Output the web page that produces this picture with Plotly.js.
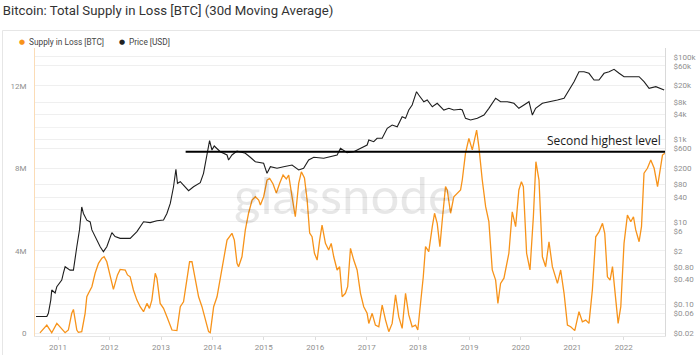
<!DOCTYPE html>
<html>
<head>
<meta charset="utf-8">
<script src="https://cdn.plot.ly/plotly-3.0.1.min.js"></script>
<style>
  html, body { margin: 0; padding: 0; background: #ffffff; }
  #chart { width: 700px; height: 355px; }
</style>
</head>
<body>
<div id="chart"></div>
<script>
// ---------------- DATA ----------------
const supplyDates = [
  '2010-08-25','2010-10-13','2010-11-05','2010-11-17','2010-12-23','2011-01-15','2011-02-20','2011-03-15','2011-04-08','2011-04-20',
  '2011-05-14','2011-05-25','2011-06-18','2011-07-12','2011-07-24','2011-08-05','2011-08-29','2011-09-21','2011-10-15','2011-11-08',
  '2011-11-24','2011-12-13','2012-01-06','2012-01-29','2012-02-27','2012-03-17','2012-04-22','2012-05-08','2012-05-27','2012-06-19',
  '2012-07-14','2012-08-06','2012-08-30','2012-09-23','2012-10-11','2012-10-28','2012-11-21','2012-12-03','2012-12-26','2013-01-19',
  '2013-02-12','2013-03-20','2013-04-24','2013-05-18','2013-06-10','2013-07-04','2013-07-23','2013-08-09','2013-09-01','2013-09-25',
  '2013-10-19','2013-11-11','2013-12-05','2013-12-17','2014-01-10','2014-02-03','2014-03-10','2014-04-15','2014-05-20','2014-06-06',
  '2014-06-25','2014-07-06','2014-07-30','2014-08-23','2014-09-15','2014-10-10','2014-11-02','2014-11-26','2014-12-08','2014-12-31',
  '2015-01-24','2015-02-12','2015-03-08','2015-03-31','2015-04-24','2015-05-18','2015-06-10','2015-06-27','2015-07-21','2015-08-13',
  '2015-09-06','2015-09-25','2015-10-17','2015-11-05','2015-11-23','2015-12-10','2015-12-27','2016-01-15','2016-02-02','2016-02-19',
  '2016-03-14','2016-04-06','2016-04-24','2016-05-12','2016-06-05','2016-06-23','2016-07-11','2016-08-03','2016-08-19','2016-09-08',
  '2016-10-01','2016-10-25','2016-11-18','2016-12-11','2017-01-04','2017-01-16','2017-02-09','2017-03-04','2017-03-28','2017-04-21',
  '2017-05-15','2017-06-07','2017-07-01','2017-07-25','2017-08-17','2017-09-10','2017-10-04','2017-10-27','2017-11-20','2017-12-14',
  '2017-12-30','2018-01-18','2018-02-07','2018-02-23','2018-03-18','2018-04-12','2018-04-28','2018-05-17','2018-06-05','2018-06-22',
  '2018-07-15','2018-07-27','2018-08-20','2018-09-12','2018-10-06','2018-10-30','2018-11-11','2018-12-04','2018-12-28','2019-01-21',
  '2019-02-21','2019-03-09','2019-04-02','2019-04-26','2019-05-19','2019-06-12','2019-07-06','2019-07-22','2019-08-10','2019-09-03',
  '2019-10-08','2019-11-01','2019-11-25','2019-12-18','2020-01-05','2020-01-19','2020-02-11','2020-03-06','2020-03-30','2020-04-17',
  '2020-05-09','2020-06-02','2020-06-25','2020-07-19','2020-08-12','2020-09-17','2020-10-10','2020-11-03','2020-11-27','2020-12-20',
  '2021-01-18','2021-02-17','2021-03-13','2021-04-06','2021-04-29','2021-05-23','2021-06-16','2021-07-09','2021-08-03','2021-08-19',
  '2021-09-07','2021-09-26','2021-10-13','2021-10-31','2021-11-22','2021-12-11','2022-01-03','2022-01-27','2022-02-20','2022-03-11',
  '2022-03-27','2022-04-20','2022-05-07','2022-05-25','2022-06-18','2022-07-12','2022-08-05','2022-08-29','2022-09-16','2022-10-03',
  '2022-10-20'
];
// Supply in Loss, millions of BTC (30d MA)
const supplyLossM = [
  0.02,0.40,0.16,0.03,0.48,0.29,0.03,0.16,0.97,1.16,
  0.16,0.05,0.08,0.97,1.77,1.94,2.26,2.91,3.39,3.64,
  3.71,3.47,2.74,2.13,2.83,3.10,3.07,2.83,2.74,2.10,
  1.61,1.29,1.05,1.45,1.21,1.61,2.91,2.67,1.45,1.21,
  0.80,0.16,0.13,1.29,1.53,2.58,3.47,3.47,2.58,1.77,
  1.29,0.64,0.08,0.03,1.29,1.77,3.23,4.52,4.85,4.52,
  3.39,3.23,3.71,5.01,5.82,6.46,6.62,6.46,6.22,6.62,
  7.43,7.51,7.24,6.80,7.27,7.67,7.48,7.67,6.61,5.65,
  7.27,7.83,7.53,6.46,4.86,4.68,3.88,3.55,4.52,5.25,
  4.36,4.04,4.36,3.71,3.07,3.23,1.77,1.94,2.26,4.12,
  3.55,3.07,1.94,1.29,0.97,0.48,0.97,0.40,0.32,1.37,
  0.64,0.08,0.48,1.86,0.80,0.24,1.94,0.89,0.32,0.40,
  0.16,1.29,2.74,4.20,3.96,5.17,5.82,5.33,4.20,5.49,
  7.11,6.95,5.82,6.62,6.79,6.95,7.43,8.73,9.45,8.89,
  9.85,9.04,7.43,6.14,5.41,3.07,2.58,1.45,2.42,2.67,
  3.88,5.89,5.17,6.95,7.35,7.11,3.88,3.07,5.65,8.32,
  7.43,3.71,3.23,4.44,3.23,2.42,3.07,1.94,0.40,0.32,
  0.13,1.05,0.56,0.64,0.48,2.10,4.68,4.92,5.33,4.85,
  2.74,2.58,3.23,1.94,0.48,1.29,4.36,5.73,5.41,5.65,
  5.01,4.44,5.17,7.76,8.00,8.40,8.00,7.11,7.83,8.64,
  8.73
];

const priceDates = [
  '2010-07-28','2010-10-13','2010-10-24','2010-11-10','2010-11-17','2010-12-11','2010-12-23','2011-01-27','2011-02-08','2011-02-20',
  '2011-03-27','2011-04-20','2011-05-14','2011-06-02','2011-06-18','2011-06-30','2011-07-24','2011-08-17','2011-08-29','2011-09-21',
  '2011-10-27','2011-11-19','2011-12-13','2012-01-18','2012-02-10','2012-03-17','2012-05-27','2012-07-14','2012-08-30','2012-10-16',
  '2012-12-03','2013-01-19','2013-02-12','2013-03-08','2013-03-31','2013-04-17','2013-04-28','2013-05-18','2013-06-22','2013-07-16',
  '2013-08-20','2013-10-07','2013-10-30','2013-11-23','2013-12-12','2013-12-29','2014-01-14','2014-02-26','2014-04-15','2014-04-26',
  '2014-05-20','2014-06-25','2014-07-18','2014-08-23','2014-09-27','2014-11-02','2014-12-31','2015-01-24','2015-02-17','2015-04-05',
  '2015-05-22','2015-07-21','2015-09-06','2015-10-11','2015-11-16','2015-12-22','2016-03-02','2016-04-30','2016-06-05','2016-06-29',
  '2016-08-15','2016-10-01','2016-11-18','2017-01-04','2017-01-16','2017-02-20','2017-03-16','2017-04-21','2017-05-27','2017-07-01',
  '2017-08-06','2017-09-10','2017-10-04','2017-10-27','2017-11-20','2017-12-21','2018-01-06','2018-02-11','2018-03-07','2018-04-12',
  '2018-05-17','2018-07-03','2018-08-08','2018-09-12','2018-10-30','2018-11-11','2018-12-04','2019-01-09','2019-02-26','2019-04-14',
  '2019-05-19','2019-07-06','2019-08-10','2019-09-27','2019-11-13','2019-12-18','2020-01-23','2020-02-28','2020-03-23','2020-04-15',
  '2020-06-02','2020-07-31','2020-09-17','2020-11-03','2020-12-08','2021-01-13','2021-02-17','2021-03-25','2021-04-29','2021-06-04',
  '2021-07-09','2021-08-14','2021-09-19','2021-10-24','2021-11-29','2022-01-03','2022-03-04','2022-04-20','2022-05-25','2022-06-30',
  '2022-08-17','2022-10-15'
];
// Price, USD
const priceUSD = [
  0.051,0.051,0.061,0.128,0.224,0.19,0.27,0.39,0.58,0.82,
  0.68,0.68,2.5,6.4,23,16,11,10,6.4,4.4,
  2.5,1.9,2.5,5.5,4.4,4.0,4.0,5.8,10.1,9.6,
  10.7,11.1,16,28,71,188,86,94,71,57,
  71,89,150,458,925,551,689,501,417,316,
  417,521,501,458,367,287,262,150,217,199,
  217,239,181,199,316,367,347,394,417,606,
  474,501,606,728,962,875,1057,1057,1845,2218,
  2018,3521,3219,5117,6770,14220,11830,8135,8946,6152,
  7442,5117,5632,5117,5325,5117,3219,2931,3219,3874,
  5632,9845,8135,8135,7442,5632,6770,8135,3874,5632,
  7442,8135,8946,9845,15630,24830,43360,43360,39650,27300,
  27300,39650,43360,49570,39650,32830,32830,32830,24830,17180,
  18800,15630
];

const yearTicks = ['2011-01-01','2012-01-01','2013-01-01','2014-01-01','2015-01-01','2016-01-01',
                   '2017-01-01','2018-01-01','2019-01-01','2020-01-01','2021-01-01','2022-01-01'];
const yearLabels = ['2011','2012','2013','2014','2015','2016','2017','2018','2019','2020','2021','2022'];

const supplyTickVals = [0, 2, 4, 6, 8, 10, 12];
const supplyTickText = ['0', '', '4M', '', '8M', '', '12M'];

const priceTickVals = [100000, 60000, 20000, 8000, 4000, 1000, 600, 200, 80, 40, 10, 6, 2, 0.8, 0.4, 0.1, 0.06, 0.02];
const priceTickText = ['$100k','$60k','$20k','$8k','$4k','$1k','$600','$200','$80','$40','$10','$6','$2','$0.80','$0.40','$0.10','$0.06','$0.02'];

const secondHighestLevelM = 8.8;
const secondHighestStart = '2013-06-25';

// ---------------- CHART ----------------
const ORANGE = '#f7931a';
const tickFont = { family: 'Roboto, Inter, sans-serif', size: 8, color: '#8f8f8f' };

const traces = [
  {
    x: supplyDates, y: supplyLossM, type: 'scatter', mode: 'lines',
    name: 'Supply in Loss [BTC]', yaxis: 'y',
    line: { color: ORANGE, width: 1.3 }, showlegend: false, hoverinfo: 'skip'
  },
  {
    x: priceDates, y: priceUSD, type: 'scatter', mode: 'lines',
    name: 'Price [USD]', yaxis: 'y2',
    line: { color: '#1e1e1e', width: 1.1 }, showlegend: false, hoverinfo: 'skip'
  }
];

const layout = {
  width: 700, height: 355,
  margin: { l: 35, r: 35, t: 48, b: 19, pad: 0 },
  paper_bgcolor: '#ffffff', plot_bgcolor: '#ffffff',
  showlegend: false,
  title: {
    text: 'Bitcoin: Total Supply in Loss [BTC] (30d Moving Average)',
    x: 0.004, xref: 'container', xanchor: 'left',
    y: 1 - 10 / 355, yref: 'container', yanchor: 'middle',
    font: { family: 'Roboto, Inter, sans-serif', size: 13.2, color: '#333333' }
  },
  xaxis: {
    type: 'date', range: ['2010-07-21', '2022-10-21'],
    tickvals: yearTicks, ticktext: yearLabels,
    ticks: 'outside', ticklen: 3, tickcolor: '#dddddd',
    showgrid: false, zeroline: false,
    showline: true, linecolor: '#e6e6e6', linewidth: 1,
    tickfont: tickFont
  },
  yaxis: {
    range: [-0.13, 13.83],
    tickvals: supplyTickVals, ticktext: supplyTickText,
    showgrid: true, gridcolor: '#f2f2f2', gridwidth: 1,
    zeroline: false, showline: true, linecolor: '#fbdcb6', linewidth: 1,
    ticks: '', ticklabelstandoff: 6,
    tickfont: tickFont
  },
  yaxis2: {
    type: 'log', overlaying: 'y', side: 'right',
    range: [-1.763, 5.211],
    tickvals: priceTickVals, ticktext: priceTickText,
    showgrid: true, gridcolor: '#efefef', gridwidth: 1,
    zeroline: false, showline: true, linecolor: '#d9d9d9', linewidth: 1,
    ticks: '', ticklabelstandoff: 6,
    tickfont: tickFont
  },
  shapes: [
    // card frame
    { type: 'rect', xref: 'paper', yref: 'paper', x0: -0.0516, x1: 1.6, y0: -0.3, y1: 1.0608,
      line: { color: '#e6e6e6', width: 1 }, fillcolor: 'rgba(0,0,0,0)', layer: 'below' },
    // hand-drawn "second highest level" line
    { type: 'line', xref: 'x', yref: 'y', x0: secondHighestStart, x1: '2022-10-21',
      y0: secondHighestLevelM, y1: secondHighestLevelM,
      line: { color: '#000000', width: 2 } }
  ],
  annotations: [
    { text: 'glassnode', xref: 'paper', yref: 'paper', x: 0.4905, y: 0.49,
      xanchor: 'center', yanchor: 'middle', showarrow: false,
      font: { family: 'Lato, "Open Sans", sans-serif', size: 51, color: 'rgba(0,0,0,0.095)' } },
    { text: 'Second highest level', xref: 'paper', yref: 'paper', x: 0.997, y: (336 - 140) / 288,
      xanchor: 'right', yanchor: 'middle', showarrow: false,
      font: { family: '"Open Sans", Lato, sans-serif', size: 12, weight: 400, color: '#1a1a1a' } },
    // legend
    { text: '●', xref: 'paper', yref: 'paper', x: (22 - 35) / 630, y: (336 - 42) / 288,
      xanchor: 'center', yanchor: 'middle', showarrow: false,
      font: { family: 'DejaVu Sans, sans-serif', size: 7, color: ORANGE } },
    { text: 'Supply in Loss [BTC]', xref: 'paper', yref: 'paper', x: (27 - 35) / 630, y: (336 - 42) / 288,
      xanchor: 'left', yanchor: 'middle', showarrow: false,
      font: { family: 'Roboto, Inter, sans-serif', size: 8.3, color: '#444444' } },
    { text: '●', xref: 'paper', yref: 'paper', x: (122 - 35) / 630, y: (336 - 42) / 288,
      xanchor: 'center', yanchor: 'middle', showarrow: false,
      font: { family: 'DejaVu Sans, sans-serif', size: 7, color: '#222222' } },
    { text: 'Price [USD]', xref: 'paper', yref: 'paper', x: (127 - 35) / 630, y: (336 - 42) / 288,
      xanchor: 'left', yanchor: 'middle', showarrow: false,
      font: { family: 'Roboto, Inter, sans-serif', size: 8.3, color: '#444444' } }
  ]
};

Plotly.newPlot('chart', traces, layout, { staticPlot: true, displayModeBar: false });
</script>
</body>
</html>
